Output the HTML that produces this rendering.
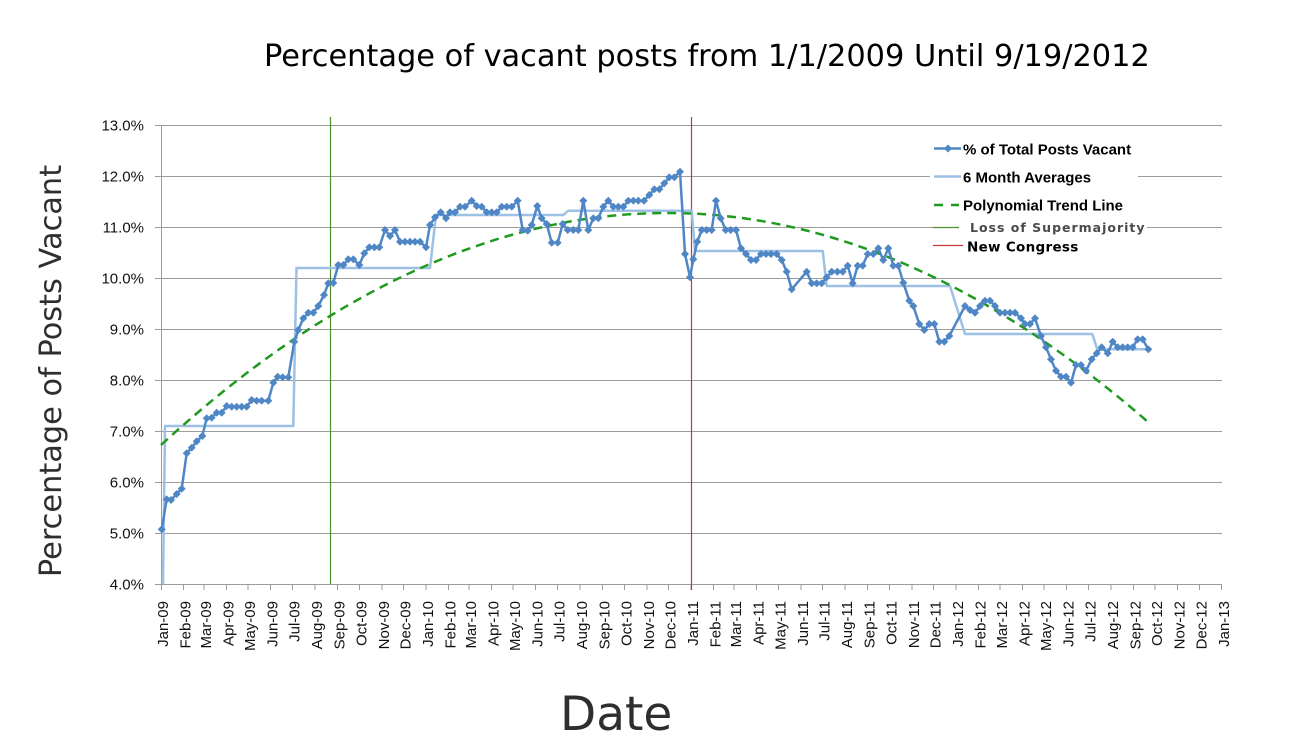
<!DOCTYPE html>
<html>
<head>
<meta charset="utf-8">
<style>
  html, body { margin: 0; padding: 0; background: #ffffff; }
  svg { display: block; }
</style>
</head>
<body>
<svg width="1300" height="750" viewBox="0 0 1300 750" xmlns="http://www.w3.org/2000/svg">
  <defs>
    <marker id="dm" viewBox="-4 -4 8 8" refX="0" refY="0" markerWidth="8" markerHeight="8" markerUnits="userSpaceOnUse">
      <path d="M0,-4 L4,0 L0,4 L-4,0Z" fill="#4f86c6"/>
    </marker>
  </defs>
  <rect x="0" y="0" width="1300" height="750" fill="#ffffff"/>

  <!-- Title -->
  <text x="264" y="66" font-family="'DejaVu Sans', sans-serif" font-size="30.4" fill="#000">Percentage of vacant posts from 1/1/2009 Until 9/19/2012</text>

  <!-- Y axis title -->
  <text transform="translate(61,371) rotate(-90)" text-anchor="middle" font-family="'DejaVu Sans', sans-serif" font-size="30.4" fill="#2e2e2e">Percentage of Posts Vacant</text>

  <!-- X axis title -->
  <text x="560" y="730" font-family="'DejaVu Sans', sans-serif" font-size="47" fill="#2e2e2e">Date</text>

  <!-- Gridlines -->
  <g stroke="#9c9c9c" stroke-width="1" shape-rendering="crispEdges">
    <line x1="155" y1="125.5" x2="1222" y2="125.5"/>
    <line x1="155" y1="176.5" x2="1222" y2="176.5"/>
    <line x1="155" y1="227.5" x2="1222" y2="227.5"/>
    <line x1="155" y1="278.5" x2="1222" y2="278.5"/>
    <line x1="155" y1="329.5" x2="1222" y2="329.5"/>
    <line x1="155" y1="380.5" x2="1222" y2="380.5"/>
    <line x1="155" y1="431.5" x2="1222" y2="431.5"/>
    <line x1="155" y1="482.5" x2="1222" y2="482.5"/>
    <line x1="155" y1="533.5" x2="1222" y2="533.5"/>
    <line x1="155" y1="584.5" x2="1222" y2="584.5"/>
    <line x1="161.5" y1="125" x2="161.5" y2="585"/>
  </g>

  <!-- X ticks -->
  <g stroke="#9c9c9c" stroke-width="1" shape-rendering="crispEdges">
    <line x1="161.5" y1="584" x2="161.5" y2="590"/>
    <line x1="183.5" y1="584" x2="183.5" y2="590"/>
    <line x1="203.8" y1="584" x2="203.8" y2="590"/>
    <line x1="226.4" y1="584" x2="226.4" y2="590"/>
    <line x1="248.1" y1="584" x2="248.1" y2="590"/>
    <line x1="270.7" y1="584" x2="270.7" y2="590"/>
    <line x1="292.4" y1="584" x2="292.4" y2="590"/>
    <line x1="315.0" y1="584" x2="315.0" y2="590"/>
    <line x1="337.5" y1="584" x2="337.5" y2="590"/>
    <line x1="359.3" y1="584" x2="359.3" y2="590"/>
    <line x1="381.8" y1="584" x2="381.8" y2="590"/>
    <line x1="403.6" y1="584" x2="403.6" y2="590"/>
    <line x1="426.1" y1="584" x2="426.1" y2="590"/>
    <line x1="448.6" y1="584" x2="448.6" y2="590"/>
    <line x1="468.9" y1="584" x2="468.9" y2="590"/>
    <line x1="491.4" y1="584" x2="491.4" y2="590"/>
    <line x1="513.2" y1="584" x2="513.2" y2="590"/>
    <line x1="535.7" y1="584" x2="535.7" y2="590"/>
    <line x1="557.5" y1="584" x2="557.5" y2="590"/>
    <line x1="580.0" y1="584" x2="580.0" y2="590"/>
    <line x1="602.5" y1="584" x2="602.5" y2="590"/>
    <line x1="624.3" y1="584" x2="624.3" y2="590"/>
    <line x1="646.8" y1="584" x2="646.8" y2="590"/>
    <line x1="668.6" y1="584" x2="668.6" y2="590"/>
    <line x1="691.1" y1="584" x2="691.1" y2="590"/>
    <line x1="713.6" y1="584" x2="713.6" y2="590"/>
    <line x1="734.0" y1="584" x2="734.0" y2="590"/>
    <line x1="756.5" y1="584" x2="756.5" y2="590"/>
    <line x1="778.3" y1="584" x2="778.3" y2="590"/>
    <line x1="800.8" y1="584" x2="800.8" y2="590"/>
    <line x1="822.6" y1="584" x2="822.6" y2="590"/>
    <line x1="845.1" y1="584" x2="845.1" y2="590"/>
    <line x1="867.6" y1="584" x2="867.6" y2="590"/>
    <line x1="889.4" y1="584" x2="889.4" y2="590"/>
    <line x1="911.9" y1="584" x2="911.9" y2="590"/>
    <line x1="933.7" y1="584" x2="933.7" y2="590"/>
    <line x1="956.2" y1="584" x2="956.2" y2="590"/>
    <line x1="978.7" y1="584" x2="978.7" y2="590"/>
    <line x1="999.8" y1="584" x2="999.8" y2="590"/>
    <line x1="1022.3" y1="584" x2="1022.3" y2="590"/>
    <line x1="1044.1" y1="584" x2="1044.1" y2="590"/>
    <line x1="1066.6" y1="584" x2="1066.6" y2="590"/>
    <line x1="1088.4" y1="584" x2="1088.4" y2="590"/>
    <line x1="1110.9" y1="584" x2="1110.9" y2="590"/>
    <line x1="1133.4" y1="584" x2="1133.4" y2="590"/>
    <line x1="1155.2" y1="584" x2="1155.2" y2="590"/>
    <line x1="1177.7" y1="584" x2="1177.7" y2="590"/>
    <line x1="1199.5" y1="584" x2="1199.5" y2="590"/>
    <line x1="1221.5" y1="584" x2="1221.5" y2="590"/>
  </g>

  <!-- Y labels -->
  <g font-family="'Liberation Sans', sans-serif" font-size="15" fill="#111" text-anchor="end">
    <text x="144" y="130.5">13.0%</text>
    <text x="144" y="181.5">12.0%</text>
    <text x="144" y="232.5">11.0%</text>
    <text x="144" y="283.5">10.0%</text>
    <text x="144" y="334.5">9.0%</text>
    <text x="144" y="385.5">8.0%</text>
    <text x="144" y="436.5">7.0%</text>
    <text x="144" y="487.5">6.0%</text>
    <text x="144" y="538.5">5.0%</text>
    <text x="144" y="589.5">4.0%</text>
  </g>

  <!-- X labels -->
  <g font-family="'Liberation Sans', sans-serif" font-size="15" fill="#111" text-anchor="end">
    <text transform="translate(168.0,601) rotate(-90)">Jan-09</text>
    <text transform="translate(190.5,601) rotate(-90)">Feb-09</text>
    <text transform="translate(210.8,601) rotate(-90)">Mar-09</text>
    <text transform="translate(233.4,601) rotate(-90)">Apr-09</text>
    <text transform="translate(255.1,601) rotate(-90)">May-09</text>
    <text transform="translate(277.7,601) rotate(-90)">Jun-09</text>
    <text transform="translate(299.4,601) rotate(-90)">Jul-09</text>
    <text transform="translate(322.0,601) rotate(-90)">Aug-09</text>
    <text transform="translate(344.5,601) rotate(-90)">Sep-09</text>
    <text transform="translate(366.3,601) rotate(-90)">Oct-09</text>
    <text transform="translate(388.8,601) rotate(-90)">Nov-09</text>
    <text transform="translate(410.6,601) rotate(-90)">Dec-09</text>
    <text transform="translate(433.1,601) rotate(-90)">Jan-10</text>
    <text transform="translate(455.6,601) rotate(-90)">Feb-10</text>
    <text transform="translate(475.9,601) rotate(-90)">Mar-10</text>
    <text transform="translate(498.4,601) rotate(-90)">Apr-10</text>
    <text transform="translate(520.2,601) rotate(-90)">May-10</text>
    <text transform="translate(542.7,601) rotate(-90)">Jun-10</text>
    <text transform="translate(564.5,601) rotate(-90)">Jul-10</text>
    <text transform="translate(587.0,601) rotate(-90)">Aug-10</text>
    <text transform="translate(609.5,601) rotate(-90)">Sep-10</text>
    <text transform="translate(631.3,601) rotate(-90)">Oct-10</text>
    <text transform="translate(653.8,601) rotate(-90)">Nov-10</text>
    <text transform="translate(675.6,601) rotate(-90)">Dec-10</text>
    <text transform="translate(698.1,601) rotate(-90)">Jan-11</text>
    <text transform="translate(720.6,601) rotate(-90)">Feb-11</text>
    <text transform="translate(741.0,601) rotate(-90)">Mar-11</text>
    <text transform="translate(763.5,601) rotate(-90)">Apr-11</text>
    <text transform="translate(785.3,601) rotate(-90)">May-11</text>
    <text transform="translate(807.8,601) rotate(-90)">Jun-11</text>
    <text transform="translate(829.6,601) rotate(-90)">Jul-11</text>
    <text transform="translate(852.1,601) rotate(-90)">Aug-11</text>
    <text transform="translate(874.6,601) rotate(-90)">Sep-11</text>
    <text transform="translate(896.4,601) rotate(-90)">Oct-11</text>
    <text transform="translate(918.9,601) rotate(-90)">Nov-11</text>
    <text transform="translate(940.7,601) rotate(-90)">Dec-11</text>
    <text transform="translate(963.2,601) rotate(-90)">Jan-12</text>
    <text transform="translate(985.7,601) rotate(-90)">Feb-12</text>
    <text transform="translate(1006.8,601) rotate(-90)">Mar-12</text>
    <text transform="translate(1029.3,601) rotate(-90)">Apr-12</text>
    <text transform="translate(1051.1,601) rotate(-90)">May-12</text>
    <text transform="translate(1073.6,601) rotate(-90)">Jun-12</text>
    <text transform="translate(1095.4,601) rotate(-90)">Jul-12</text>
    <text transform="translate(1117.9,601) rotate(-90)">Aug-12</text>
    <text transform="translate(1140.4,601) rotate(-90)">Sep-12</text>
    <text transform="translate(1162.2,601) rotate(-90)">Oct-12</text>
    <text transform="translate(1184.7,601) rotate(-90)">Nov-12</text>
    <text transform="translate(1206.5,601) rotate(-90)">Dec-12</text>
    <text transform="translate(1229.0,601) rotate(-90)">Jan-13</text>
  </g>

  <!-- Vertical event lines -->
  <line x1="330.5" y1="117" x2="330.5" y2="584" stroke="#4f8f2b" stroke-width="1.2"/>
  <line x1="691.5" y1="117" x2="691.5" y2="590" stroke="#c23a3a" stroke-width="1.2"/>

  <!-- 6 Month Averages -->
  <polyline fill="none" stroke="#9dc0e5" stroke-width="2.5" stroke-linejoin="round"
    points="163,584 165,426 293.3,426 296.5,268 430,268 436,215 563.3,215 568.3,210.7 691.7,210.7 695,251 822.7,251 826.7,286 950,286 965,334 1092.3,334 1097.3,349.3 1148.3,349.3"/>

  <!-- Polynomial trend -->
  <path d="M161,445 Q654.5,-7.2 1148,422" fill="none" stroke="#1f9a1f" stroke-width="2.5" stroke-dasharray="9 6"/>

  <!-- % of Total Posts Vacant -->
  <polyline fill="none" stroke="#4f86c6" stroke-width="2.5" stroke-linejoin="round"
    marker-start="url(#dm)" marker-mid="url(#dm)" marker-end="url(#dm)"
    points="161.7,529.3 166.7,499.3 171,500 176.7,494 181.7,488.7 186.7,453.3 191.7,447.7 196.7,441.3 202.3,436 206.7,418.3 211.7,417.7 216.7,412.7 221.7,412.7 226.7,406 231.7,406.7 236.7,406.7 241.7,406.7 246.7,406.7 251.7,400 256.7,400.7 261.7,400.7 268.3,400.7 273.3,382.7 277.7,376.7 282.7,377.3 288.3,377.3 294.3,341.7 298.3,330 303.3,318.3 308.3,312.7 313.3,312.7 318.3,306 324,295 328.3,283.3 333.3,283 338.3,265 343.3,265 348.3,259.3 353.3,259.3 359.3,265 364.3,253.3 369.3,247.3 374.3,247.3 379.3,247.3 385,230 390,236 395,230 400,241.7 405,241.7 410,241.7 415,241.7 420,241.7 426,247.3 430,225 435,217.3 440.7,212.3 446,218.3 450,212.3 455,212.3 460,206.7 465,206.7 471.7,200.7 476.7,206 481.7,206.7 486.7,212.3 491.7,212.3 496.7,212.3 501.7,206.7 506.7,206.7 511.7,206.7 517.7,200.7 522.7,230 527.7,230.7 531.7,225 537.3,206 541.7,218.3 546.7,224 551.7,242.7 557.7,242.7 562.7,224 567.7,230 573.3,230 578.3,230 583.3,200.7 588.3,230 593.3,218.3 598.3,218.3 603.3,206.7 608.3,200.7 613.3,206.7 618.3,206.7 623.3,206.7 628.3,200.7 633.3,200.7 638.3,200.7 644,200.7 649.3,195 654.3,189.3 659.3,189.3 664.3,183.3 669.3,177.3 674.3,177.3 680,171.7 685,254 690,277.3 693.3,259.3 697.3,241.7 701.7,230 706.7,230 711.7,230 716,200.7 720.7,218.3 725.7,230 730.7,230 736,230 741,248.3 746,254 751,260 756,260 761,254 766,254 771,254 776.7,254 781.7,260 786.7,271.7 791.7,289.3 806.7,271.7 811.7,283.3 816.7,283.3 821.7,283.3 826.7,277.3 831.7,271.7 837.3,271.7 842.7,271.7 847.7,265.7 852.7,283.3 857.7,265.7 862.7,265.7 867.7,254 873.3,254 878.3,248.3 883.3,260 888.3,248.3 893.3,265.7 898.3,265.7 903.3,282.7 909.3,300.7 913.3,306 919.3,324 924.3,330 929.3,324 934.3,324 939.3,341.7 944.3,341.7 949.3,336 965,306 970,310 975,312.7 980,306 985,300.7 990,300.7 995,306 1000,312.7 1005,312.7 1010,312.7 1015,312.7 1021,318.3 1025,324 1030,324 1035,318.3 1041,336 1046,347.3 1051,359.3 1056,370.7 1061,376.7 1066,376.7 1071,382.7 1076,365 1081,365 1086,370.7 1091.7,359.3 1096.7,353.3 1101.7,347.3 1107.7,353.3 1112.7,341.7 1117.7,347.3 1122.7,347.3 1127.7,347.3 1132.7,347.3 1137.7,339.3 1142.7,339.3 1148.3,349.3"/>

  <!-- Legend -->
  <rect x="930" y="137" width="208" height="80" fill="#ffffff"/>
  <rect x="933" y="219" width="214" height="17" fill="#ffffff"/>
  <line x1="934" y1="148.5" x2="961" y2="148.5" stroke="#4f86c6" stroke-width="2.5"/>
  <path d="M948,144.5 L952,148.5 L948,152.5 L944,148.5Z" fill="#4f86c6"/>
  <line x1="934" y1="176.5" x2="961" y2="176.5" stroke="#9dc0e5" stroke-width="2.5"/>
  <line x1="934" y1="205" x2="943" y2="205" stroke="#1f9a1f" stroke-width="2.5"/>
  <line x1="951" y1="205" x2="959" y2="205" stroke="#1f9a1f" stroke-width="2.5"/>
  <line x1="933" y1="227.5" x2="959" y2="227.5" stroke="#4f8f2b" stroke-width="1.2"/>
  <line x1="933" y1="245.5" x2="963" y2="245.5" stroke="#c23a3a" stroke-width="1.2"/>
  <g font-family="'Liberation Sans', sans-serif" font-size="15" font-weight="bold" fill="#000">
    <text x="963" y="154.5">% of Total Posts Vacant</text>
    <text x="963" y="182.5">6 Month Averages</text>
    <text x="963" y="210.5">Polynomial Trend Line</text>
  </g>
  <text x="970" y="232" font-family="'DejaVu Sans', sans-serif" font-size="12.5" font-weight="bold" letter-spacing="1" fill="#4a4a4a">Loss of Supermajority</text>
  <text x="967" y="251.5" font-family="'DejaVu Sans', sans-serif" font-size="13.5" font-weight="bold" letter-spacing="0.3" fill="#000">New Congress</text>
</svg>
</body>
</html>
